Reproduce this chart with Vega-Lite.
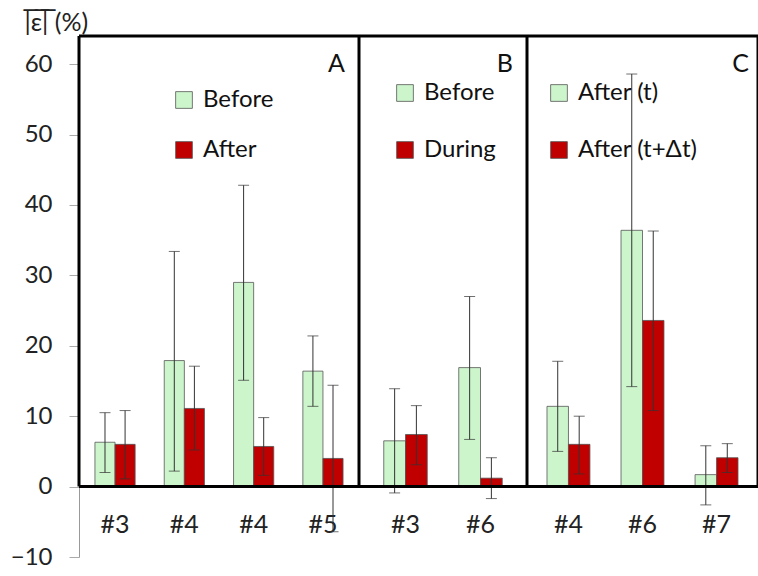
{
  "$schema": "https://vega.github.io/schema/vega-lite/v6.json",
  "padding": {"left": 10, "top": 10, "right": 0, "bottom": 0},
  "background": "white",
  "spacing": 0,
  "bounds": "flush",
  "config": {"view": {"stroke": null}, "font": "Lato", "axis": {"grid": false}},
  "datasets": {
    "A": [
      {"cat": "#3", "lab": "Before", "v": 6.3, "lo": 2.0, "hi": 10.5},
      {"cat": "#3", "lab": "After", "v": 6.0, "lo": 1.1, "hi": 10.8},
      {"cat": "#4a", "lab": "Before", "v": 17.9, "lo": 2.2, "hi": 33.4},
      {"cat": "#4a", "lab": "After", "v": 11.1, "lo": 5.2, "hi": 17.1},
      {"cat": "#4b", "lab": "Before", "v": 29.0, "lo": 15.1, "hi": 42.8},
      {"cat": "#4b", "lab": "After", "v": 5.7, "lo": 1.6, "hi": 9.8},
      {"cat": "#5", "lab": "Before", "v": 16.4, "lo": 11.4, "hi": 21.4},
      {"cat": "#5", "lab": "After", "v": 4.0, "lo": -6.4, "hi": 14.4}
    ],
    "B": [
      {"cat": "#3", "lab": "Before", "v": 6.5, "lo": -0.9, "hi": 13.9},
      {"cat": "#3", "lab": "During", "v": 7.4, "lo": 3.1, "hi": 11.5},
      {"cat": "#6", "lab": "Before", "v": 16.9, "lo": 6.7, "hi": 27.0},
      {"cat": "#6", "lab": "During", "v": 1.2, "lo": -1.7, "hi": 4.1}
    ],
    "C": [
      {"cat": "#4", "lab": "After (t)", "v": 11.4, "lo": 5.0, "hi": 17.8},
      {"cat": "#4", "lab": "After (t+Δt)", "v": 6.0, "lo": 1.8, "hi": 10.0},
      {"cat": "#6", "lab": "After (t)", "v": 36.4, "lo": 14.2, "hi": 58.6},
      {"cat": "#6", "lab": "After (t+Δt)", "v": 23.6, "lo": 10.8, "hi": 36.3},
      {"cat": "#7", "lab": "After (t)", "v": 1.7, "lo": -2.6, "hi": 5.8},
      {"cat": "#7", "lab": "After (t+Δt)", "v": 4.1, "lo": 2.0, "hi": 6.1}
    ]
  },
  "resolve": {"scale": {"x": "independent", "xOffset": "independent", "y": "independent", "color": "independent"}},
  "hconcat": [
    {
      "width": 280, "height": 521,
      "layer": [
        {
          "data": {"name": "A"},
          "encoding": {
            "x": {"field": "cat", "type": "nominal", "sort": null, "title": null,
                  "scale": {"paddingInner": 0.42, "paddingOuter": 0.23},
                  "axis": {"orient": "bottom", "offset": -70, "domain": false, "ticks": false, "labelAngle": 0, "labelFontSize": 25, "labelColor": "#222", "labelPadding": 25, "labelExpr": "substring(datum.label, 0, 2)"}},
            "xOffset": {"field": "lab", "type": "nominal", "sort": null}
          },
          "layer": [
            {"mark": {"type": "bar", "stroke": "#555", "strokeWidth": 0.8},
             "encoding": {
               "y": {"field": "v", "type": "quantitative", "title": "|̅ε̅|̅ (%)",
                     "scale": {"domain": [-10, 64], "nice": false, "zero": false},
                     "axis": {"values": [-10, 0, 10, 20, 30, 40, 50, 60], "tickSize": 10, "tickColor": "#aaa", "domainColor": "#999", "labelFontSize": 24, "labelColor": "#222", "labelPadding": 17,
                              "titleAngle": 0, "titleAlign": "left", "titleBaseline": "alphabetic", "titleX": -55, "titleY": -6, "titleFontSize": 25, "titleFontWeight": "normal", "titleColor": "#222"}},
               "color": {"field": "lab", "type": "nominal", "sort": null, "scale": {"range": ["#ccf5cc", "#c00000"]},
                         "legend": {"title": null, "orient": "none", "legendX": 93, "legendY": 52, "symbolType": "square", "symbolSize": 280, "labelFontSize": 24, "rowPadding": 26, "labelOffset": 7, "symbolStrokeColor": "#555", "symbolStrokeWidth": 0.8, "padding": 0, "labelColor": "#111"}}
             }},
            {"mark": {"type": "rule", "color": "#333", "strokeWidth": 1},
             "encoding": {"y": {"field": "lo", "type": "quantitative"}, "y2": {"field": "hi"}}},
            {"mark": {"type": "tick", "color": "#333", "size": 11, "thickness": 1},
             "encoding": {"y": {"field": "lo", "type": "quantitative"}}},
            {"mark": {"type": "tick", "color": "#333", "size": 11, "thickness": 1},
             "encoding": {"y": {"field": "hi", "type": "quantitative"}}}
          ]
        },
        {"data": {"values": [{"z": 0}]}, "mark": {"type": "rule", "color": "black", "strokeWidth": 3},
         "encoding": {"y": {"field": "z", "type": "quantitative"}}},
        {"data": {"values": [{"z": 64}]}, "mark": {"type": "rule", "color": "black", "strokeWidth": 3},
         "encoding": {"y": {"field": "z", "type": "quantitative"}}},
        {"data": {"values": [{"a": 0, "b": 64}]}, "mark": {"type": "rule", "color": "black", "strokeWidth": 3},
         "encoding": {"x": {"value": 0}, "y": {"field": "a", "type": "quantitative"}, "y2": {"field": "b"}}},
        {"data": {"values": [{"a": 0, "b": 64}]}, "mark": {"type": "rule", "color": "black", "strokeWidth": 3},
         "encoding": {"x": {"value": "width"}, "y": {"field": "a", "type": "quantitative"}, "y2": {"field": "b"}}},
        {"data": {"values": [{"t": "A", "yy": 60}]}, "mark": {"type": "text", "align": "right", "baseline": "middle", "dx": -14, "fontSize": 25, "color": "#111"},
         "encoding": {"x": {"value": "width"}, "y": {"field": "yy", "type": "quantitative"}, "text": {"field": "t"}}}
      ]
    },
    {
      "width": 168, "height": 521,
      "layer": [
        {
          "data": {"name": "B"},
          "encoding": {
            "x": {"field": "cat", "type": "nominal", "sort": null, "title": null,
                  "scale": {"paddingInner": 0.42, "paddingOuter": 0.33},
                  "axis": {"orient": "bottom", "offset": -70, "domain": false, "ticks": false, "labelAngle": 0, "labelFontSize": 25, "labelColor": "#222", "labelPadding": 25}},
            "xOffset": {"field": "lab", "type": "nominal", "sort": null}
          },
          "layer": [
            {"mark": {"type": "bar", "stroke": "#555", "strokeWidth": 0.8},
             "encoding": {
               "y": {"field": "v", "type": "quantitative", "axis": null,
                     "scale": {"domain": [-10, 64], "nice": false, "zero": false}},
               "color": {"field": "lab", "type": "nominal", "sort": null, "scale": {"range": ["#ccf5cc", "#c00000"]},
                         "legend": {"title": null, "orient": "none", "legendX": 34, "legendY": 45, "symbolType": "square", "symbolSize": 280, "labelFontSize": 24, "rowPadding": 33, "labelOffset": 7, "symbolStrokeColor": "#555", "symbolStrokeWidth": 0.8, "padding": 0, "labelColor": "#111"}}
             }},
            {"mark": {"type": "rule", "color": "#333", "strokeWidth": 1},
             "encoding": {"y": {"field": "lo", "type": "quantitative"}, "y2": {"field": "hi"}}},
            {"mark": {"type": "tick", "color": "#333", "size": 11, "thickness": 1},
             "encoding": {"y": {"field": "lo", "type": "quantitative"}}},
            {"mark": {"type": "tick", "color": "#333", "size": 11, "thickness": 1},
             "encoding": {"y": {"field": "hi", "type": "quantitative"}}}
          ]
        },
        {"data": {"values": [{"z": 0}]}, "mark": {"type": "rule", "color": "black", "strokeWidth": 3},
         "encoding": {"y": {"field": "z", "type": "quantitative"}}},
        {"data": {"values": [{"z": 64}]}, "mark": {"type": "rule", "color": "black", "strokeWidth": 3},
         "encoding": {"y": {"field": "z", "type": "quantitative"}}},
        {"data": {"values": [{"a": 0, "b": 64}]}, "mark": {"type": "rule", "color": "black", "strokeWidth": 3},
         "encoding": {"x": {"value": "width"}, "y": {"field": "a", "type": "quantitative"}, "y2": {"field": "b"}}},
        {"data": {"values": [{"t": "B", "yy": 60}]}, "mark": {"type": "text", "align": "right", "baseline": "middle", "dx": -14, "fontSize": 25, "color": "#111"},
         "encoding": {"x": {"value": "width"}, "y": {"field": "yy", "type": "quantitative"}, "text": {"field": "t"}}}
      ]
    },
    {
      "width": 231, "height": 521,
      "layer": [
        {
          "data": {"name": "C"},
          "encoding": {
            "x": {"field": "cat", "type": "nominal", "sort": null, "title": null,
                  "scale": {"paddingInner": 0.42, "paddingOuter": 0.27},
                  "axis": {"orient": "bottom", "offset": -70, "domain": false, "ticks": false, "labelAngle": 0, "labelFontSize": 25, "labelColor": "#222", "labelPadding": 25}},
            "xOffset": {"field": "lab", "type": "nominal", "sort": null}
          },
          "layer": [
            {"mark": {"type": "bar", "stroke": "#555", "strokeWidth": 0.8},
             "encoding": {
               "y": {"field": "v", "type": "quantitative", "axis": null,
                     "scale": {"domain": [-10, 64], "nice": false, "zero": false}},
               "color": {"field": "lab", "type": "nominal", "sort": null, "scale": {"range": ["#ccf5cc", "#c00000"]},
                         "legend": {"title": null, "orient": "none", "legendX": 20, "legendY": 45, "symbolType": "square", "symbolSize": 280, "labelFontSize": 24, "rowPadding": 33, "labelOffset": 7, "symbolStrokeColor": "#555", "symbolStrokeWidth": 0.8, "padding": 0, "labelColor": "#111"}}
             }},
            {"mark": {"type": "rule", "color": "#333", "strokeWidth": 1},
             "encoding": {"y": {"field": "lo", "type": "quantitative"}, "y2": {"field": "hi"}}},
            {"mark": {"type": "tick", "color": "#333", "size": 11, "thickness": 1},
             "encoding": {"y": {"field": "lo", "type": "quantitative"}}},
            {"mark": {"type": "tick", "color": "#333", "size": 11, "thickness": 1},
             "encoding": {"y": {"field": "hi", "type": "quantitative"}}}
          ]
        },
        {"data": {"values": [{"z": 0}]}, "mark": {"type": "rule", "color": "black", "strokeWidth": 3},
         "encoding": {"y": {"field": "z", "type": "quantitative"}}},
        {"data": {"values": [{"z": 64}]}, "mark": {"type": "rule", "color": "black", "strokeWidth": 3},
         "encoding": {"y": {"field": "z", "type": "quantitative"}}},
        {"data": {"values": [{"a": 0, "b": 64}]}, "mark": {"type": "rule", "color": "black", "strokeWidth": 3},
         "encoding": {"x": {"value": "width"}, "y": {"field": "a", "type": "quantitative"}, "y2": {"field": "b"}}},
        {"data": {"values": [{"t": "C", "yy": 60}]}, "mark": {"type": "text", "align": "right", "baseline": "middle", "dx": -9, "fontSize": 25, "color": "#111"},
         "encoding": {"x": {"value": "width"}, "y": {"field": "yy", "type": "quantitative"}, "text": {"field": "t"}}}
      ]
    }
  ]
}
